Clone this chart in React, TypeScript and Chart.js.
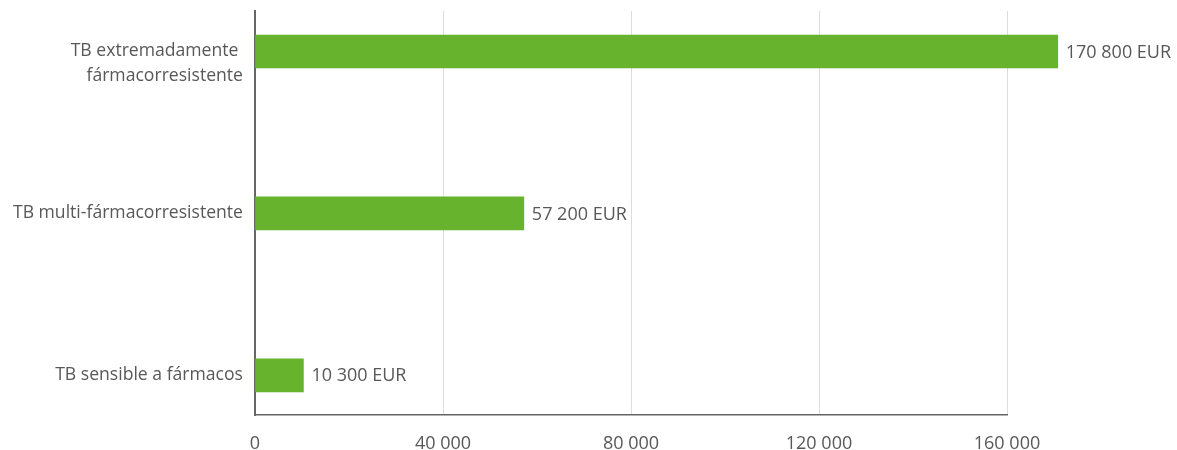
import React, { useEffect, useRef } from "react";
import { Chart, registerables } from "chart.js";

Chart.register(...registerables);

const categories: string[][] = [
  ["", "TB extremadamente ", "fármacorresistente"],
  ["TB multi-fármacorresistente"],
  ["TB sensible a fármacos"],
];
const values: number[] = [170800, 57200, 10300];
const xTickValues: number[] = [0, 40000, 80000, 120000, 160000];
const unit = "EUR";

const FONT = "'Open Sans', sans-serif";
const TEXT = "#585858";
const BAR = "#67b32e";

const fmt = (v: number) => String(Math.round(v)).replace(/\B(?=(\d{3})+(?!\d))/g, " ");

const valueLabels = {
  id: "valueLabels",
  afterDatasetsDraw(chart: any) {
    const ctx = chart.ctx;
    const meta = chart.getDatasetMeta(0);
    ctx.save();
    ctx.font = `18px ${FONT}`;
    ctx.fillStyle = TEXT;
    ctx.textAlign = "left";
    ctx.textBaseline = "middle";
    meta.data.forEach((bar: any, i: number) => {
      ctx.fillText(`${fmt(values[i])} ${unit}`, bar.x + 8, bar.y + 1);
    });
    ctx.restore();
  },
};

export default function App() {
  const ref = useRef<HTMLCanvasElement>(null);
  useEffect(() => {
    if (!ref.current) return;
    const chart = new Chart(ref.current, {
      type: "bar",
      data: {
        datasets: [
          {
            data: values.map((v, i) => ({ x: v, y: i })),
            backgroundColor: BAR,
            barThickness: 33,
            clip: false as any,
          },
        ],
      },
      options: {
        animation: false,
        responsive: false,
        indexAxis: "y",
        layout: { padding: { left: 0, right: 170, top: 11, bottom: 0 } },
        plugins: { legend: { display: false }, tooltip: { enabled: false } },
        scales: {
          x: {
            type: "linear",
            min: 0,
            max: 160000,
            afterBuildTicks: (s: any) => {
              s.ticks = xTickValues.map((v) => ({ value: v }));
            },
            afterFit: (s: any) => {
              s.height = 35;
              s.paddingLeft = 0;
              s.paddingRight = 0;
            },
            grid: { color: "#dcdcdc", lineWidth: 1, drawTicks: false },
            border: { color: "#666", width: 1.5 },
            ticks: {
              color: TEXT,
              font: { family: FONT, size: 18 },
              padding: 18,
              callback: (v: any) => fmt(Number(v)),
            },
          },
          y: {
            type: "linear",
            offset: false,
            bounds: "data",
            min: -0.25,
            max: 2.245,
            reverse: true,
            afterBuildTicks: (s: any) => {
              s.ticks = categories.map((_, i) => ({ value: i }));
            },
            afterFit: (s: any) => {
              s.width = 255;
              s.paddingTop = 0;
              s.paddingBottom = 0;
            },
            grid: { display: false, drawTicks: false, offset: false },
            border: { color: "#666", width: 2 },
            ticks: {
              color: TEXT,
              font: { family: FONT, size: 17.6, lineHeight: 1.4 },
              padding: 12,
              callback: (v: any) => categories[Number(v)] as any,
            },
          },
        },
      },
      plugins: [valueLabels],
    });
    return () => chart.destroy();
  }, []);
  return (
    <div style={{ position: "absolute", left: 0, top: 0, width: 1177, height: 450, background: "#fff" }}>
      <canvas ref={ref} width={1177} height={450} style={{ display: "block" }} />
    </div>
  );
}
